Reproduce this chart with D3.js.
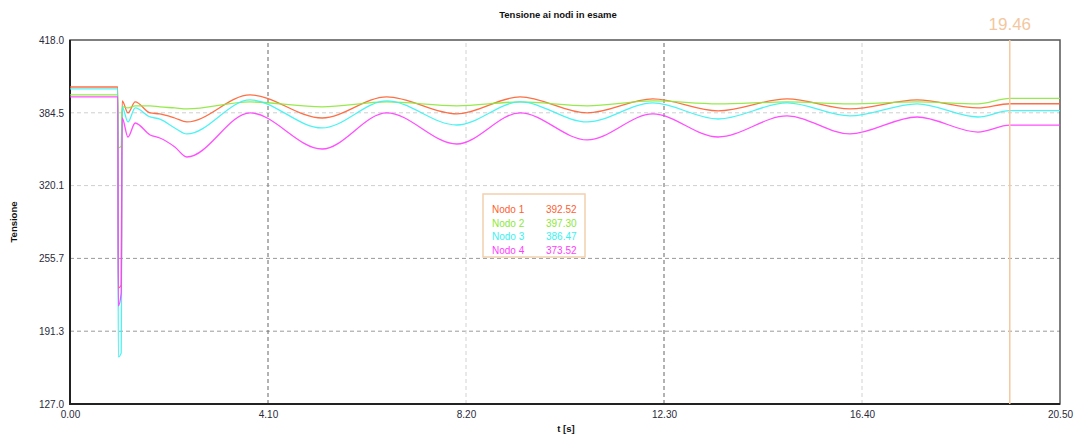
<!DOCTYPE html>
<html>
<head>
<meta charset="utf-8">
<script src="https://cdn.jsdelivr.net/npm/d3@7"></script>
<style>
  body { margin: 0; background: #fff; }
  svg { display: block; font-family: "Liberation Sans", Arial, sans-serif; }
</style>
</head>
<body>
<script>
// data
let times = [0, 0.99, 1.00, 1.06, 1.08, 1.20, 1.35, 1.66, 1.86, 2.17, 2.42, 3.73, 5.22, 6.56,
  8.01, 9.32, 10.71, 12.07, 13.42, 14.85, 16.15, 17.54, 18.80, 19.46, 20.50];
let nodo1 = [407.3, 407.3, 229.6, 232.0, 395.0, 384.4, 394.1, 384.4, 383.5, 379.9, 376.4, 400.3, 379.9, 398.6,
  383.5, 398.6, 384.4, 396.8, 386.2, 396.8, 387.9, 395.9, 388.8, 392.52, 392.52];
let nodo2 = [400.3, 400.3, 353.4, 355.0, 390.0, 388.8, 390.6, 390.6, 389.7, 388.8, 387.9, 394.1, 389.7, 394.1,
  390.6, 394.1, 390.6, 395.0, 392.4, 394.1, 392.4, 394.1, 392.4, 397.30, 397.30];
let nodo3 = [405.6, 405.6, 168.6, 172.0, 389.7, 376.4, 388.8, 380.8, 379.0, 371.1, 365.8, 395.9, 371.1, 395.0,
  373.7, 394.1, 376.4, 393.2, 379.0, 393.2, 381.7, 392.4, 380.8, 386.47, 386.47];
let nodo4 = [398.6, 398.6, 213.7, 225.0, 379.9, 363.1, 375.5, 364.9, 362.2, 354.3, 345.4, 384.4, 352.5, 384.4,
  356.9, 384.4, 360.5, 383.5, 363.1, 381.7, 365.8, 380.8, 367.5, 373.52, 373.52];

let seriesNames = ["Nodo 1", "Nodo 2", "Nodo 3", "Nodo 4"];
let seriesColors = ["#ff5e30", "#8ce83a", "#3af2f2", "#ff3cff"];
let legendValues = ["392.52", "397.30", "386.47", "373.52"];

let xTicks = [0, 4.1, 8.2, 12.3, 16.4, 20.5];
let yTicks = [127.0, 191.375, 255.75, 320.125, 384.5, 448.875];
let yTickLabels = ["127.0", "191.3", "255.7", "320.1", "384.5", "418.0"];
let cursorTime = 19.46;

function draw() {
  "use strict";
  let width = 1076, height = 436;
  let margin = { left: 70, right: 16, top: 40, bottom: 32 };

  let svg = d3.select("body").append("svg")
    .attr("width", width)
    .attr("height", height);

  let x = d3.scaleLinear().domain([0, 20.5]).range([margin.left, width - margin.right]);
  let y = d3.scaleLinear().domain([127, 448.875]).range([height - margin.bottom, margin.top]);

  // grid
  svg.append("g").selectAll("line")
    .data(yTicks.slice(1, -1))
    .enter().append("line")
    .attr("x1", x(0)).attr("x2", x(20.5))
    .attr("y1", d => y(d)).attr("y2", d => y(d))
    .attr("stroke", (d, i) => i < 2 ? "#9a9a9a" : "#cfcfcf")
    .attr("stroke-width", 1)
    .attr("stroke-dasharray", "4,3");

  svg.append("g").selectAll("line")
    .data(xTicks.slice(1, -1))
    .enter().append("line")
    .attr("x1", d => x(d)).attr("x2", d => x(d))
    .attr("y1", y(127)).attr("y2", y(448.875))
    .attr("stroke", (d, i) => i % 2 == 0 ? "#666" : "#d2d2d2")
    .attr("stroke-width", 1)
    .attr("stroke-dasharray", "4,3");

  // frame
  svg.append("rect")
    .attr("x", x(0)).attr("y", y(448.875))
    .attr("width", x(20.5) - x(0)).attr("height", y(127) - y(448.875))
    .attr("fill", "none")
    .attr("stroke", "#555")
    .attr("stroke-width", 1.5);
  svg.append("line")
    .attr("x1", x(0)).attr("x2", x(0))
    .attr("y1", y(448.875)).attr("y2", y(127) + 1)
    .attr("stroke", "#222").attr("stroke-width", 2);
  svg.append("line")
    .attr("x1", x(0) - 1).attr("x2", x(20.5))
    .attr("y1", y(127)).attr("y2", y(127))
    .attr("stroke", "#222").attr("stroke-width", 2);

  // lines
  let allSeries = [nodo1, nodo2, nodo3, nodo4];
  let line = d3.line()
    .x((d, i) => x(times[i]))
    .y(d => y(d))
    .curve(d3.curveMonotoneX);

  svg.append("g").selectAll("path")
    .data(allSeries)
    .enter().append("path")
    .attr("d", d => line(d))
    .attr("fill", "none")
    .attr("stroke", (d, i) => seriesColors[i])
    .attr("stroke-width", 1.3)
    .attr("opacity", 0.9);

  // cursor
  svg.append("line")
    .attr("x1", x(cursorTime)).attr("x2", x(cursorTime))
    .attr("y1", y(448.875)).attr("y2", y(127))
    .attr("stroke", "#f5c9a0")
    .attr("stroke-width", 1.5);
  svg.append("text")
    .attr("x", x(cursorTime))
    .attr("y", 30)
    .attr("text-anchor", "middle")
    .attr("font-size", "17px")
    .attr("fill", "#f3c79f")
    .text(cursorTime.toFixed(2));

  // axis ticks labels
  let yAxis = d3.axisLeft(y)
    .tickValues(yTicks)
    .tickSize(0)
    .tickPadding(6)
    .tickFormat((d, i) => yTickLabels[i]);
  let gy = svg.append("g").attr("transform", "translate(" + x(0) + ",0)").call(yAxis);
  gy.select(".domain").remove();
  gy.selectAll("text")
    .attr("font-size", "10px")
    .attr("fill", "#2a2a3a")
    .attr("font-family", "Liberation Sans, Arial, sans-serif");

  let xAxis = d3.axisBottom(x)
    .tickValues(xTicks)
    .tickSize(0)
    .tickPadding(7)
    .tickFormat(d3.format(".2f"));
  let gx = svg.append("g").attr("transform", "translate(0," + y(127) + ")").call(xAxis);
  gx.select(".domain").remove();
  gx.selectAll("text")
    .attr("font-size", "10px")
    .attr("fill", "#2a2a3a")
    .attr("font-family", "Liberation Sans, Arial, sans-serif");

  // titles
  svg.append("text")
    .attr("x", 558).attr("y", 18)
    .attr("text-anchor", "middle")
    .attr("font-size", "9.5px")
    .attr("font-weight", "bold")
    .attr("fill", "#111")
    .text("Tensione ai nodi in esame");

  svg.append("text")
    .attr("x", 566).attr("y", 432)
    .attr("text-anchor", "middle")
    .attr("font-size", "9.5px")
    .attr("font-weight", "bold")
    .attr("fill", "#111")
    .text("t [s]");

  svg.append("text")
    .attr("transform", "translate(17,222) rotate(-90)")
    .attr("text-anchor", "middle")
    .attr("font-size", "9.5px")
    .attr("font-weight", "bold")
    .attr("fill", "#111")
    .text("Tensione");

  // legend
  let legend = svg.append("g").attr("transform", "translate(483,194)");
  legend.append("rect")
    .attr("width", 102).attr("height", 63)
    .attr("fill", "#fff")
    .attr("stroke", "#f2cfae")
    .attr("stroke-width", 1.5);
  let rows = legend.selectAll("g.row")
    .data(seriesNames)
    .enter().append("g")
    .attr("class", "row")
    .attr("transform", (d, i) => "translate(0," + (19 + i * 13.5) + ")");
  rows.append("text")
    .attr("x", 9)
    .attr("font-size", "10px")
    .attr("fill", (d, i) => seriesColors[i])
    .text(d => d);
  rows.append("text")
    .attr("x", 63)
    .attr("font-size", "10px")
    .attr("fill", (d, i) => seriesColors[i])
    .text((d, i) => legendValues[i]);
}

draw();
</script>
</body>
</html>
